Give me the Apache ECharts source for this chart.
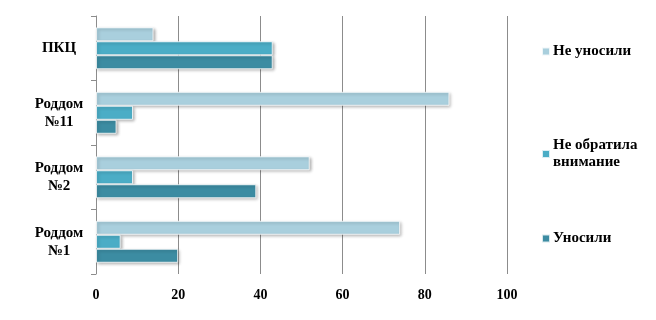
<!DOCTYPE html>
<html><head><meta charset="utf-8">
<script src="https://cdn.jsdelivr.net/npm/echarts@6/dist/echarts.min.js"></script>
<style>html,body{margin:0;padding:0;background:#fff}#c{width:656px;height:320px}</style>
</head><body><div id="c"></div>
<script>
const categories = ['Роддом\n№1', 'Роддом\n№2', 'Роддом\n№11', 'ПКЦ'];
const xTicks = [0, 20, 40, 60, 80, 100];
const unosili = [20, 39, 5, 43];
const neObratila = [6, 9, 9, 43];
const neUnosili = [74, 52, 86, 14];
const seriesNames = ['Не уносили', 'Не обратила внимание', 'Уносили'];
const colors = ['#A9CFDD', '#4BADC6', '#3C8CA2'];

const font = '"Liberation Serif", "Times New Roman", serif';
const mk = (name, data, color) => ({
  name, type: 'bar', data,
  barWidth: 14, barGap: '0%',
  itemStyle: { color, borderColor: 'rgba(255,255,255,0.8)', borderWidth: 1,
    shadowColor: 'rgba(0,0,0,0.3)', shadowBlur: 3, shadowOffsetX: 1.5, shadowOffsetY: 1.5 }
});
const legendBase = {
  orient: 'vertical', left: 536, itemWidth: 8, itemHeight: 8, icon: 'rect',
  textStyle: { fontFamily: font, fontWeight: 'bold', fontSize: 15, color: '#000', lineHeight: 17, padding: [0, 0, 0, -2] },
  formatter: n => n === 'Не обратила внимание' ? 'Не обратила\nвнимание' : n
};
const chart = echarts.init(document.getElementById('c'));
chart.setOption({
  animation: false,
  backgroundColor: '#fff',
  color: colors,
  grid: { left: 96, right: 149, top: 16, bottom: 46 },
  legend: [
    Object.assign({}, legendBase, { top: 38, data: [seriesNames[0]] }),
    Object.assign({}, legendBase, { top: 132, data: [seriesNames[1]] }),
    Object.assign({}, legendBase, { top: 225, data: [seriesNames[2]] })
  ],
  xAxis: {
    type: 'value', min: xTicks[0], max: xTicks[xTicks.length - 1], interval: 20,
    axisLine: { show: false }, axisTick: { show: false },
    splitLine: { lineStyle: { color: '#8c8c8c', width: 1 } },
    axisLabel: { margin: 14, fontFamily: font, fontWeight: 'bold', fontSize: 14, color: '#000' }
  },
  yAxis: {
    type: 'category', data: categories,
    axisLine: { show: true, lineStyle: { color: '#8c8c8c' } },
    axisTick: { show: true, length: 5, lineStyle: { color: '#8c8c8c' } },
    axisLabel: { margin: 37, align: 'center', fontFamily: font, fontWeight: 'bold', fontSize: 15, color: '#000', lineHeight: 18 }
  },
  series: [
    mk(seriesNames[0], neUnosili, colors[0]),
    mk(seriesNames[1], neObratila, colors[1]),
    mk(seriesNames[2], unosili, colors[2])
  ]
});
</script></body></html>
